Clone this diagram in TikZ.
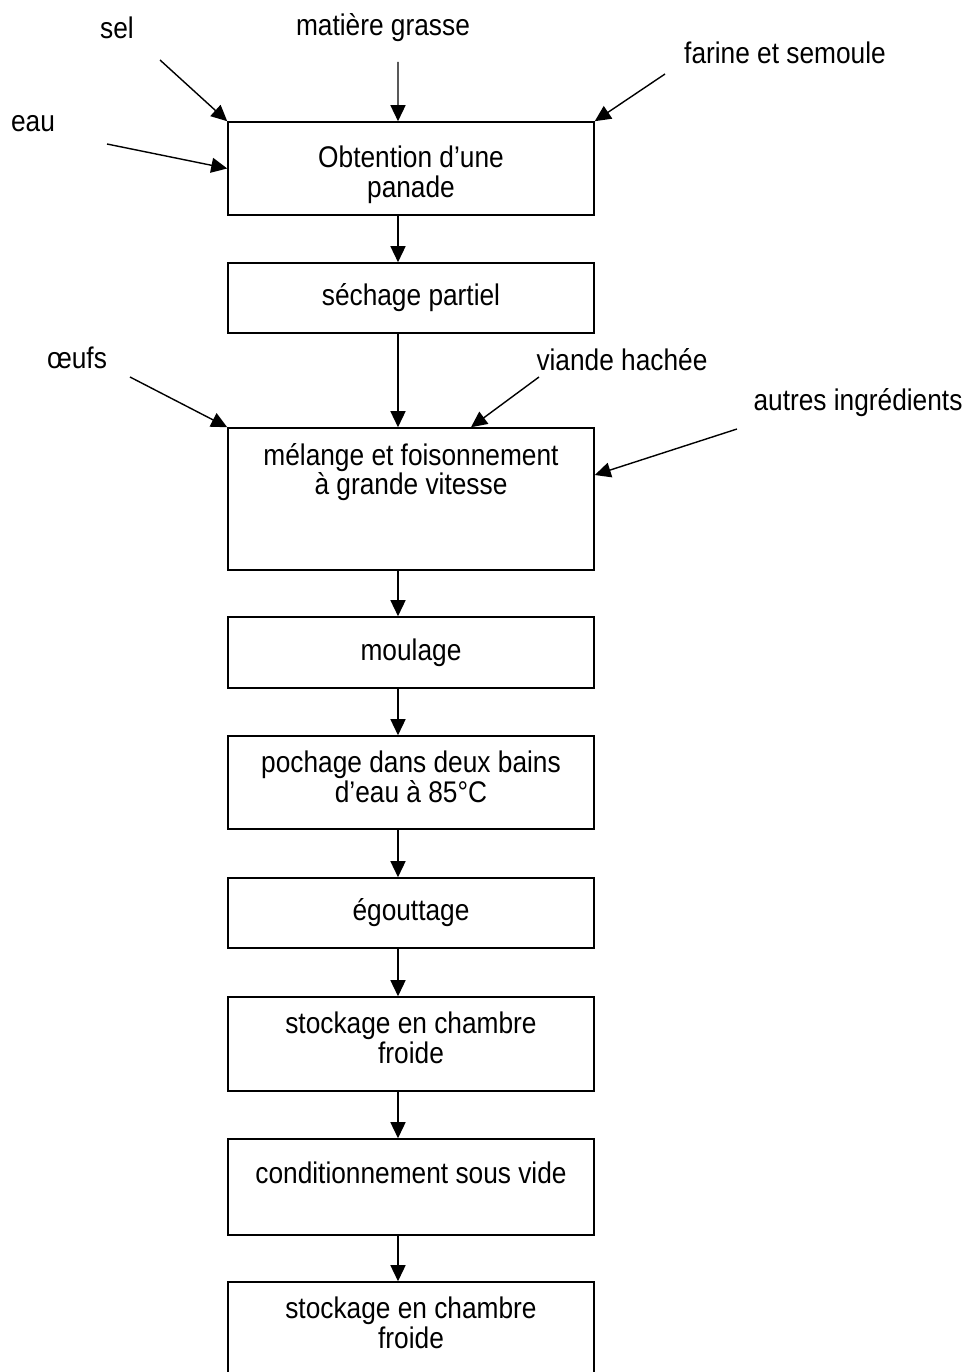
\documentclass[tikz,border=0pt]{standalone}
\usepackage{fontspec}
\setmainfont{Liberation Sans}[FakeStretch=0.88]
\usetikzlibrary{arrows.meta,positioning}

\newcommand{\enhaut}[3]{\parbox[c][#1][t]{7cm}{\centering\vspace*{#2}\rule{0pt}{11.9pt}#3}}

\begin{document}
\begin{tikzpicture}[x=0.02cm,y=-0.02cm,>={Triangle[length=0.32cm,width=0.3cm]},
	every node/.style={font=\fontsize{17}{17}\selectfont},
	etape/.style={draw,line width=0.9pt,minimum width=7.32cm,inner sep=0pt,align=center},
	intrant/.style={inner sep=1pt},
	fleche/.style={->,line width=0.8pt}]

	\useasboundingbox (0,0) rectangle (970,1372);
	\fill[white] (0,0) rectangle (970,1372);

	% etapes
	\node [etape]						(p1)	at (411,168.5)	{\enhaut{1.86cm}{0.48cm}{Obtention d’une\\panade}};
	\node [etape,minimum height=1.4cm]	(p2)	at (411,298)	{séchage partiel};
	\node [etape]						(p3)	at (411,499)	{\enhaut{2.84cm}{0.3cm}{mélange et foisonnement\\à grande vitesse}};
	\node [etape,minimum height=1.42cm]	(p4)	at (411,652.5)	{moulage};
	\node [etape]						(p5)	at (411,782.5)	{\enhaut{1.86cm}{0.3cm}{pochage dans deux bains\\d’eau à 85°C}};
	\node [etape,minimum height=1.4cm]	(p6)	at (411,913)	{égouttage};
	\node [etape]						(p7)	at (411,1044)	{\enhaut{1.88cm}{0.3cm}{stockage en chambre\\froide}};
	\node [etape]						(p8)	at (411,1187)	{\enhaut{1.92cm}{0.46cm}{conditionnement sous vide}};
	\node [etape]						(p9)	at (411,1337)	{\enhaut{2.2cm}{0.3cm}{stockage en chambre\\froide}};

	% intrants
	\node [intrant]	(sel)		at (117,28)		{sel};
	\node [intrant]	(mg)		at (383,28)		{matière grasse};
	\node [intrant]	(farine)	at (785,53)		{farine et semoule};
	\node [intrant]	(eau)		at (33,124)		{eau};
	\node [intrant]	(oeufs)		at (77,358)		{œufs};
	\node [intrant]	(viande)	at (622,360)	{viande hachée};
	\node [intrant]	(autres)	at (858,403)	{autres ingrédients};

	\coordinate (sel-d)		at (160,60);
	\coordinate (mg-d)		at (398,62);
	\coordinate (farine-d)	at (665,74);
	\coordinate (eau-d)		at (107,144);
	\coordinate (oeufs-d)	at (130,377);
	\coordinate (viande-d)	at (539,377);
	\coordinate (autres-d)	at (737,429);

	\draw [fleche] (sel-d)		-- (p1.north west);
	\draw [fleche] (mg-d)		-- ([xshift=-0.26cm]p1.north);
	\draw [fleche] (farine-d)	-- (p1.north east);
	\draw [fleche] (eau-d)		-- (p1.west);
	\draw [fleche] (oeufs-d)	-- (p3.north west);
	\draw [fleche] (viande-d)	-- ([xshift=1.2cm]p3.north);
	\draw [fleche] (autres-d)	-- ([yshift=0.48cm]p3.east);

	\foreach \a/\b in {p1/p2,p2/p3,p3/p4,p4/p5,p5/p6,p6/p7,p7/p8,p8/p9}
		\draw [fleche] ([xshift=-0.26cm]\a.south) -- ([xshift=-0.26cm]\b.north);

\end{tikzpicture}
\end{document}
